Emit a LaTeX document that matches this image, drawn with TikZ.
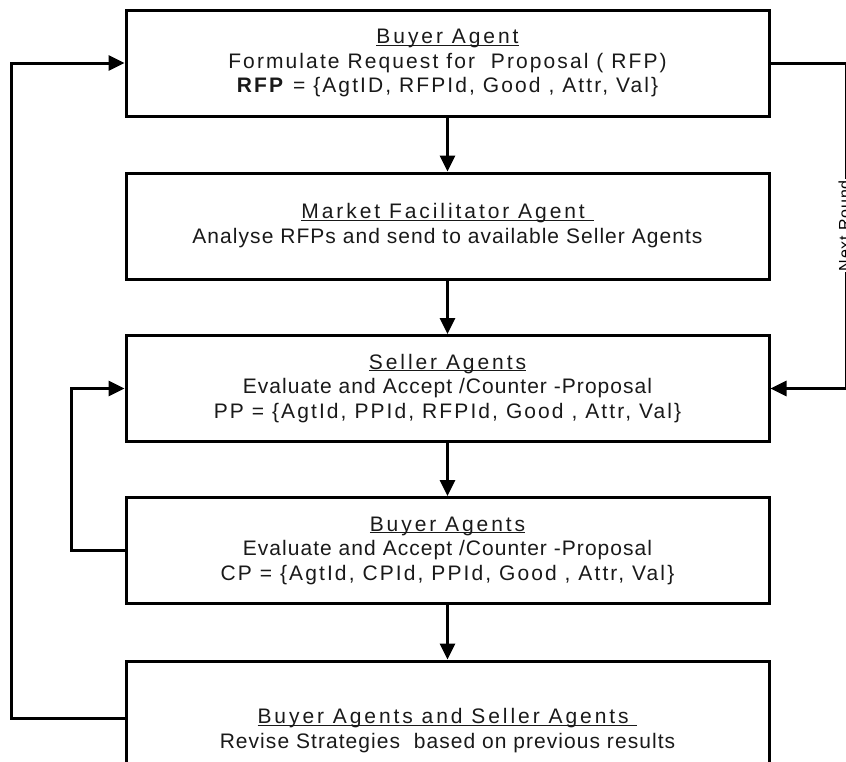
\documentclass[tikz,border=0pt]{standalone}
\usepackage{fontspec}
\setmainfont{Liberation Sans}[LetterSpace=5]
\newfontfamily\wide{Liberation Sans}[LetterSpace=10]
\newfontfamily\wider{Liberation Sans}[LetterSpace=14]
\newcommand\ttl[1]{{\wider\underline{\smash{#1}}\vphantom{Ag}}}
\usetikzlibrary{arrows.meta,positioning}

\begin{document}
\begin{tikzpicture}[x=1pt,y=-1pt,
    stage/.style={draw, line width=3pt, minimum width=643pt, minimum height=106pt,
      align=center, inner sep=0pt, text=black!90, font=\fontsize{21}{24.5}\selectfont},
    flow/.style={line width=3pt, -{Triangle[length=16pt,width=15pt]}}]
    \clip (0,0) rectangle (846,761);
    \node[stage] (buyer) at (447.5,63) {\ttl{Buyer Agent}\\
      {\wide Formulate Request for\ \ Proposal ( RFP)}\\
      {\wide\textbf{RFP} = \{AgtID, RFPId, Good , Attr, Val\}}};
    \node[stage] (market) at (447.5,226) {\ttl{Market Facilitator Agent\ }\\
      Analyse RFPs and send to available Seller Agents};
    \node[stage] (seller) at (447.5,388.5) {\ttl{Seller Agents}\\
      Evaluate and Accept /Counter -Proposal\\
      {\wide PP = \{AgtId, PPId, RFPId, Good , Attr, Val\}}};
    \node[stage] (buyers) at (447.5,550.5) {\ttl{Buyer Agents}\\
      Evaluate and Accept /Counter -Proposal\\
      {\wide CP = \{AgtId, CPId, PPId, Good , Attr, Val\}}};
    \node[stage, minimum height=140pt] (revise) at (447.5,731) {\ttl{Buyer Agents and Seller Agents\ }\\
      Revise Strategies\ \ based on previous results};
    \draw[flow] (buyer) -- (market);
    \draw[flow] (market) -- (seller);
    \draw[flow] (seller) -- (buyers);
    \draw[flow] (buyers) -- (revise);
    \draw[flow] (buyers.west) -- ++(-53,0) |- (seller.west);
    \draw[flow] ([yshift=13pt]revise.west) -- ++(-113,0) |- (buyer.west);
    \draw[flow] (buyer.east) -- ++(76,0) |- (seller.east)
      node[pos=0.25, rotate=90, yshift=2pt, fill=white, inner sep=1pt, font=\fontsize{16}{18}\selectfont] (round) {Next Round};
\end{tikzpicture}
\end{document}
